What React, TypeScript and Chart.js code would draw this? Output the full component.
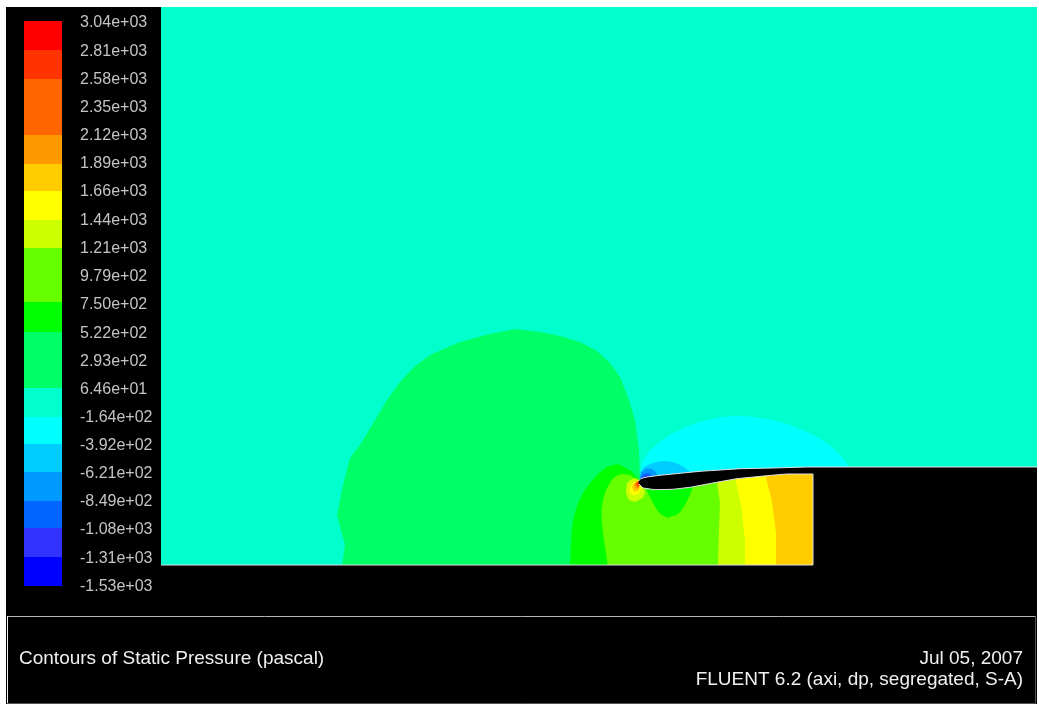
import React, { useEffect, useRef } from "react";
import { Chart, registerables } from "chart.js";

Chart.register(...registerables);

type P = [number, number];

const colorbarColors = ["#ff0000","#ff3300","#ff6600","#ff6600","#ff9900","#ffcc00","#ffff00","#ccff00","#66ff00","#66ff00","#00ff00","#00ff66","#00ff66","#00ffcc","#00ffff","#00ccff","#0099ff","#0066ff","#3333ff","#0000ff"];
const colorbarEdges = [21,50,79,107,135,164,191,220,248,275,302,332,360,388,417,444,472,501,528,557,586];
const tickLabels = ["3.04e+03","2.81e+03","2.58e+03","2.35e+03","2.12e+03","1.89e+03","1.66e+03","1.44e+03","1.21e+03","9.79e+02","7.50e+02","5.22e+02","2.93e+02","6.46e+01","-1.64e+02","-3.92e+02","-6.21e+02","-8.49e+02","-1.08e+03","-1.31e+03","-1.53e+03"];
const tickRows = [21,50,78,106,134,162,190,219,247,275,303,332,360,388,416,444,472,500,528,557,585];

const frame: P[] = [[6,7],[1037,7],[1037,704],[6,704]];
const domain: P[] = [[161,7],[1037,7],[1037,565],[161,565]];
const block: P[] = [[813,467],[1037,467],[1037,565],[813,565]];
const airfoilUpper: P[] = [[638.5,481],[641,478.5],[647,477],[660,475.3],[673,474],[700,471.3],[740,468.7],[773,468],[806.7,467]];
const airfoilLower: P[] = [[813,474],[786.7,474],[766.7,475.7],[736.7,478.7],[716.7,482.3],[690,487.3],[673,489.3],[655,489.7],[643,488],[639,484]];
const airfoilCorner: P[] = [[813,467]];

const farGreen: P[] = [[342,565],[345,545],[337,515],[343,485],[350,458],[362,442],[375,420],[387,400],[400,382],[414,367],[430,355],[460,342],[490,334],[515,329],[540,332],[560,336],[580,342],[597,351],[610,363],[620,377],[629,400],[635,420],[639,450],[640,478],[660,490],[813,490],[813,565]];
const cyanBubble: P[] = [[640,479],[641.7,463],[650,450],[661,441],[673,433],[686,427],[700,421.7],[718,417.5],[736.7,415.7],[755,417],[773,420],[790,425],[806.7,431.7],[821,439],[833,448],[842,457],[849,467],[700,480]];
const skyBubble: P[] = [[640,478],[643,468],[648,465],[653,463],[659,461.5],[665,461],[671,461.8],[676.7,463.3],[684,467],[690,472],[660,480]];
const azureBubble: P[] = [[639.5,480],[641,472],[646,468.5],[651,468.5],[656,472],[658,477],[650,480]];
const royalBubble: P[] = [[640,480],[642,475.5],[646,473],[650,473.5],[652,477],[648,480]];
const indigoBubble: P[] = [[640,480],[643,476.5],[647,475],[649,477],[645,479.5]];
const blueBubble: P[] = [[640.5,480],[643,478],[645,477.5],[645,479.5]];

const greenRegion: P[] = [[640,480],[630,470],[618,464],[606.7,466.7],[598,474],[590,483],[583,493],[578,503],[574,516],[571.7,530],[570,565],[813,565],[813,474],[700,480]];
const limeRegion: P[] = [[636.7,480],[630,475],[621.7,474],[616,476],[611.7,480],[606,490],[603,500],[601.5,510],[601.7,520],[603,534],[605,546.7],[607.7,565],[813,565],[813,474],[692.7,480],[692.7,487.3],[690,495],[685,505],[681,511],[676.7,515],[668,517.7],[661.7,515],[657,510],[653,503],[646,489],[640,480]];
const springPocket: P[] = [[652,485],[655,496.7],[660,500],[665,501.7],[670,500.5],[675,498],[681.7,490],[682,484]];
const chartreuseBand: P[] = [[716.7,480],[720,503],[719,530],[718,565],[813,565],[813,474]];
const yellowBand: P[] = [[735,476],[741.7,510],[745,540],[745,565],[813,565],[813,474]];
const amberBand: P[] = [[765,474],[771.7,500],[776,533],[776,565],[813,565],[813,474]];

const stagnationLime: P[] = [[626,490],[627,483],[631,479.5],[635,478],[639,480],[644,488],[645,493],[642.7,498],[635,502],[629,500],[626.5,495]];
const stagnationYellow: P[] = [[629.5,489],[632,483],[638,480],[641,488],[639,494],[633,495.5],[630,493]];
const stagnationAmber: P[] = [[632,487],[636,481],[640.5,486],[638,491],[634,491.5]];
const stagnationOrange: P[] = [[634,485.5],[637,481],[640,486],[637,489]];
const stagnationDeep: P[] = [[635.5,484],[638,480.7],[640,485],[637.5,487.5]];
const stagnationRed: P[] = [[637,483],[638.5,481.5],[640,484],[638.2,485.5]];

const panelTop: P[] = [[7,616.5],[1036,616.5]];
const panelLeft: P[] = [[7.5,616],[7.5,704]];
const panelRight: P[] = [[1035.5,616],[1035.5,704]];
const panelBottom: P[] = [[7,703.5],[1036,703.5]];
const domainBase: P[] = [[161,565],[813,565],[813,474]];
const domainStep: P[] = [[806.7,467],[1037,467]];

const caption = "Contours of Static Pressure (pascal)";
const stamp = "Jul 05, 2007";
const solver = "FLUENT 6.2 (axi, dp, segregated, S-A)";

const toData = (pts: P[]) => pts.map(([x, y]) => ({ x, y }));
const area = (pts: P[], color: string) => ({
  data: toData(pts),
  backgroundColor: color,
  borderColor: color,
  borderWidth: 0,
  fill: "shape" as const,
  pointRadius: 0,
  tension: 0,
});
const line = (pts: P[], color: string, width = 1) => ({
  data: toData(pts),
  borderColor: color,
  borderWidth: width,
  fill: false,
  pointRadius: 0,
  tension: 0,
});

const layers = [
  area(frame, "#000000"),
  area(domain, "#00ffcc"),
  area(farGreen, "#00ff66"),
  area(cyanBubble, "#00ffff"),
  area(skyBubble, "#00ccff"),
  area(azureBubble, "#0099ff"),
  area(royalBubble, "#0066ff"),
  area(indigoBubble, "#3333ff"),
  area(blueBubble, "#0000ff"),
  area(greenRegion, "#00ff00"),
  area(limeRegion, "#66ff00"),
  area(springPocket, "#00ff00"),
  area(chartreuseBand, "#ccff00"),
  area(yellowBand, "#ffff00"),
  area(amberBand, "#ffcc00"),
  area(stagnationLime, "#ccff00"),
  area(stagnationYellow, "#ffff00"),
  area(stagnationAmber, "#ffcc00"),
  area(stagnationOrange, "#ff9900"),
  area(stagnationDeep, "#ff6600"),
  area(stagnationRed, "#ff3300"),
  area(block, "#000000"),
  area([...airfoilUpper, ...airfoilCorner, ...airfoilLower], "#000000"),
  ...colorbarColors.map((c, i) =>
    area(
      [
        [24, colorbarEdges[i]],
        [62, colorbarEdges[i]],
        [62, colorbarEdges[i + 1]],
        [24, colorbarEdges[i + 1]],
      ] as P[],
      c
    )
  ),
  line(airfoilUpper, "#e0e0e0"),
  line(airfoilLower, "#e0e0e0"),
  line(domainBase, "#e0e0e0"),
  line(domainStep, "#e0e0e0"),
  line(panelTop, "#b4b4b4"),
  line(panelLeft, "#f0f0f0"),
  line(panelRight, "#555555"),
  line(panelBottom, "#555555"),
];

const textPlugin = {
  id: "fluentText",
  afterDatasetsDraw(chart: any) {
    const { ctx, scales } = chart;
    const X = (v: number) => scales.x.getPixelForValue(v);
    const Y = (v: number) => scales.y.getPixelForValue(v);
    ctx.save();
    ctx.textBaseline = "middle";
    ctx.font = "16px 'Liberation Sans'";
    ctx.fillStyle = "#c4c4c4";
    ctx.textAlign = "left";
    ctx.save();
    ctx.beginPath();
    ctx.rect(X(6), Y(7), X(155) - X(6), Y(591.5) - Y(7));
    ctx.clip();
    tickLabels.forEach((t, i) => ctx.fillText(t, X(80), Y(tickRows[i] + 1.5)));
    ctx.restore();
    ctx.font = "19px 'Liberation Sans'";
    ctx.fillStyle = "#f0f0f0";
    ctx.fillText(caption, X(19), Y(659));
    ctx.textAlign = "right";
    ctx.fillText(stamp, X(1023), Y(659));
    ctx.fillText(solver, X(1023), Y(680));
    ctx.restore();
  },
};

export default function App() {
  const ref = useRef<HTMLCanvasElement>(null);
  useEffect(() => {
    document.body.style.margin = "0";
    document.body.style.background = "#ffffff";
    const chart = new Chart(ref.current as HTMLCanvasElement, {
      type: "line",
      data: {
        datasets: layers.map((d, i) => ({ ...d, order: layers.length - i })) as any,
      },
      options: {
        animation: false,
        responsive: false,
        devicePixelRatio: 1,
        layout: { padding: 0 },
        events: [],
        plugins: { legend: { display: false }, tooltip: { enabled: false }, title: { display: false } },
        scales: {
          x: { type: "linear", min: 0, max: 1039, display: false },
          y: { type: "linear", min: 0, max: 704, reverse: true, display: false },
        },
      },
      plugins: [textPlugin],
    });
    return () => chart.destroy();
  }, []);
  return <canvas ref={ref} width={1039} height={704} style={{ display: "block" }} />;
}
